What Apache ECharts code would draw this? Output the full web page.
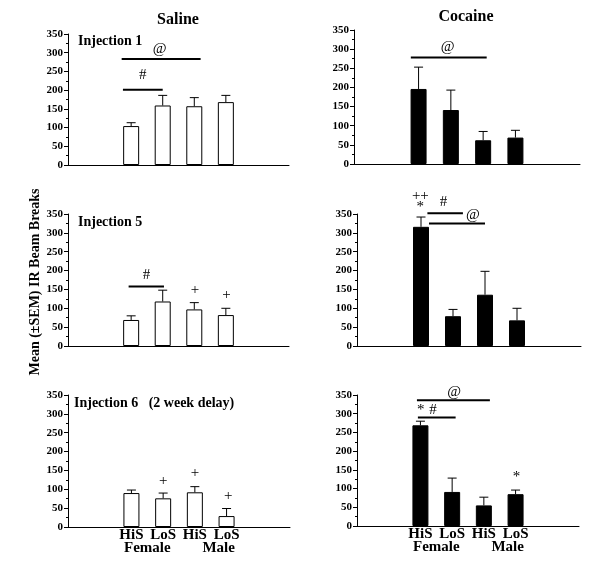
<!DOCTYPE html>
<html>
<head>
<meta charset="utf-8">
<script src="https://cdn.jsdelivr.net/npm/echarts@6/dist/echarts.min.js"></script>
<style>
  html, body { margin: 0; padding: 0; background: #fff; }
  #chart { width: 600px; height: 577px; }
</style>
</head>
<body>
<div id="chart"></div>
<script>
// x groups (bars sit on slots 2..5 of a 0..7 axis)
var groups = ['HiS', 'LoS', 'HiS', 'LoS'];
var sexes = ['Female', 'Male'];

// mean beam breaks and upper SEM whisker
var salineInj1 = [104, 159, 157, 168];
var salineInj1Sem = [9, 27, 23, 18];
var cocaineInj1 = [196, 141, 62, 69];
var cocaineInj1Sem = [57, 52, 23, 19];
var salineInj5 = [69, 118, 97, 82];
var salineInj5Sem = [11, 30, 18, 18];
var cocaineInj5 = [316, 79, 136, 68];
var cocaineInj5Sem = [26, 18, 62, 32];
var salineInj6 = [90, 76, 92, 29];
var salineInj6Sem = [8, 14, 15, 20];
var cocaineInj6 = [269, 91, 55, 85];
var cocaineInj6Sem = [11, 37, 22, 11];

// significance bars [fromSlot, toSlot, level] and marks [slot, level, text]
var salineInj1Lines = [[1.7, 4.2, 283], [1.74, 3.0, 201]];
var salineInj1Marks = [[2.9, 310, '@'], [2.37, 239, '#']];
var cocaineInj1Lines = [[1.76, 4.11, 278]];
var cocaineInj1Marks = [[2.9, 305, '@']];
var salineInj5Lines = [[1.92, 3.04, 158]];
var salineInj5Marks = [[2.49, 189, '#'], [4.02, 149, '+'], [5.02, 136, '+']];
var cocaineInj5Lines = [[2.2, 3.31, 352], [2.25, 4.0, 325]];
var cocaineInj5Marks = [[2.7, 382, '#'], [3.62, 347, '@'], [1.98, 398, '++'], [1.98, 369, '*']];
var salineInj6Lines = [];
var salineInj6Marks = [[3.0, 123, '+'], [4.0, 142, '+'], [5.05, 83, '+']];
var cocaineInj6Lines = [[1.89, 4.19, 336], [1.92, 3.11, 290]];
var cocaineInj6Marks = [[3.06, 359, '@'], [2.01, 309, '*'], [2.4, 311, '#'], [5.03, 132, '*']];

var serif = '"Liberation Serif", "Times New Roman", serif';

var panels = [
  {left: 68, top: 34, width: 221, height: 131, vals: salineInj1, sem: salineInj1Sem, color: '#fff', lines: salineInj1Lines, marks: salineInj1Marks},
  {left: 354, top: 30, width: 226, height: 134, vals: cocaineInj1, sem: cocaineInj1Sem, color: '#000', lines: cocaineInj1Lines, marks: cocaineInj1Marks},
  {left: 68, top: 214, width: 221, height: 132, vals: salineInj5, sem: salineInj5Sem, color: '#fff', lines: salineInj5Lines, marks: salineInj5Marks},
  {left: 357, top: 214, width: 224, height: 132, vals: cocaineInj5, sem: cocaineInj5Sem, color: '#000', lines: cocaineInj5Lines, marks: cocaineInj5Marks},
  {left: 68, top: 395, width: 222, height: 132, vals: salineInj6, sem: salineInj6Sem, color: '#fff', lines: salineInj6Lines, marks: salineInj6Marks, bottom: true},
  {left: 357, top: 395, width: 222, height: 131, vals: cocaineInj6, sem: cocaineInj6Sem, color: '#000', lines: cocaineInj6Lines, marks: cocaineInj6Marks, bottom: true}
];

var slots = ['', ''].concat(groups).concat(['', '']);
// quarter-slot axis for the sex labels under each pair
var sexSlots = [];
for (var s = 0; s < 29; s++) sexSlots.push('');
sexSlots[10] = sexes[0];
sexSlots[19] = sexes[1];

var option = {
  animation: false,
  backgroundColor: '#fff',
  grid: [],
  xAxis: [],
  yAxis: [],
  series: [],
  graphic: [
    {type: 'text', x: 178, y: 20, style: {text: 'Saline', font: 'bold 16px ' + serif, fill: '#000', align: 'center', verticalAlign: 'middle'}},
    {type: 'text', x: 466, y: 17, style: {text: 'Cocaine', font: 'bold 16px ' + serif, fill: '#000', align: 'center', verticalAlign: 'middle'}},
    {type: 'text', x: 78, y: 41, style: {text: 'Injection 1', font: 'bold 14px ' + serif, fill: '#000', align: 'left', verticalAlign: 'middle'}},
    {type: 'text', x: 78, y: 222, style: {text: 'Injection 5', font: 'bold 14px ' + serif, fill: '#000', align: 'left', verticalAlign: 'middle'}},
    {type: 'text', x: 74, y: 403, style: {text: 'Injection 6   (2 week delay)', font: 'bold 14px ' + serif, fill: '#000', align: 'left', verticalAlign: 'middle'}},
    {type: 'text', x: 35, y: 282, rotation: Math.PI / 2, style: {text: 'Mean (±SEM) IR Beam Breaks', font: 'bold 14px ' + serif, fill: '#000', align: 'center', verticalAlign: 'middle'}}
  ]
};

panels.forEach(function (p, i) {
  option.grid.push({left: p.left, top: p.top, width: p.width, height: p.height});

  var catIdx = option.xAxis.length;
  option.xAxis.push({
    type: 'category', gridIndex: i, data: slots, boundaryGap: false,
    axisLine: {lineStyle: {color: '#000', width: 1}},
    axisTick: {show: false},
    axisLabel: {show: !!p.bottom, interval: 0, margin: 1, color: '#000', fontFamily: serif, fontWeight: 'bold', fontSize: 15}
  });
  var valIdx = option.xAxis.length;
  option.xAxis.push({type: 'value', gridIndex: i, min: 0, max: 7, show: false});
  if (p.bottom) {
    option.xAxis.push({
      type: 'category', gridIndex: i, data: sexSlots, boundaryGap: false, position: 'bottom', offset: 13,
      axisLine: {show: false}, axisTick: {show: false},
      axisLabel: {interval: 0, margin: 1, color: '#000', fontFamily: serif, fontWeight: 'bold', fontSize: 15}
    });
  }

  option.yAxis.push({
    type: 'value', gridIndex: i, min: 0, max: 350, interval: 50,
    axisLine: {show: true, lineStyle: {color: '#000', width: 1}},
    axisTick: {show: true, length: 4, lineStyle: {color: '#000'}},
    minorTick: {show: true, splitNumber: 2, length: 2, lineStyle: {color: '#000'}},
    splitLine: {show: false},
    axisLabel: {margin: 5, color: '#000', fontFamily: serif, fontWeight: 'bold', fontSize: 11}
  });

  // bars
  option.series.push({
    type: 'bar', xAxisIndex: catIdx, yAxisIndex: i, barWidth: 16,
    data: p.vals.map(function (v, k) { return [k + 2, v]; }),
    itemStyle: {color: p.color, borderColor: '#000', borderWidth: 1}
  });

  // upper error whiskers
  option.series.push({
    type: 'custom', xAxisIndex: catIdx, yAxisIndex: i, z: 3,
    data: p.vals.map(function (v, k) { return [k + 2, v, p.sem[k]]; }),
    renderItem: function (params, api) {
      var x = api.value(0), y = api.value(1), e = api.value(2);
      var a = api.coord([x, y]);
      var b = api.coord([x, y + e]);
      var st = {stroke: '#000', lineWidth: 1};
      return {type: 'group', children: [
        {type: 'line', shape: {x1: a[0], y1: a[1], x2: b[0], y2: b[1]}, style: st},
        {type: 'line', shape: {x1: b[0] - 4.5, y1: b[1], x2: b[0] + 4.5, y2: b[1]}, style: st}
      ]};
    }
  });

  // significance bars
  if (p.lines.length) {
    option.series.push({
      type: 'custom', xAxisIndex: valIdx, yAxisIndex: i, z: 4,
      encode: {x: [0, 1], y: 2},
      data: p.lines,
      renderItem: function (params, api) {
        var a = api.coord([api.value(0), api.value(2)]);
        var b = api.coord([api.value(1), api.value(2)]);
        return {type: 'line', shape: {x1: a[0], y1: a[1], x2: b[0], y2: b[1]}, style: {stroke: '#000', lineWidth: 2}};
      }
    });
  }

  // significance symbols
  option.series.push({
    type: 'custom', xAxisIndex: valIdx, yAxisIndex: i, z: 4,
    data: p.marks.map(function (m) { return [m[0], m[1]]; }),
    renderItem: function (params, api) {
      var m = p.marks[params.dataIndex];
      var c = api.coord([api.value(0), api.value(1)]);
      return {type: 'text', x: c[0], y: c[1], style: {text: m[2], font: '15px ' + serif, fill: '#000', align: 'center', verticalAlign: 'middle'}};
    }
  });
});

var myChart = echarts.init(document.getElementById('chart'));
myChart.setOption(option);
</script>
</body>
</html>
